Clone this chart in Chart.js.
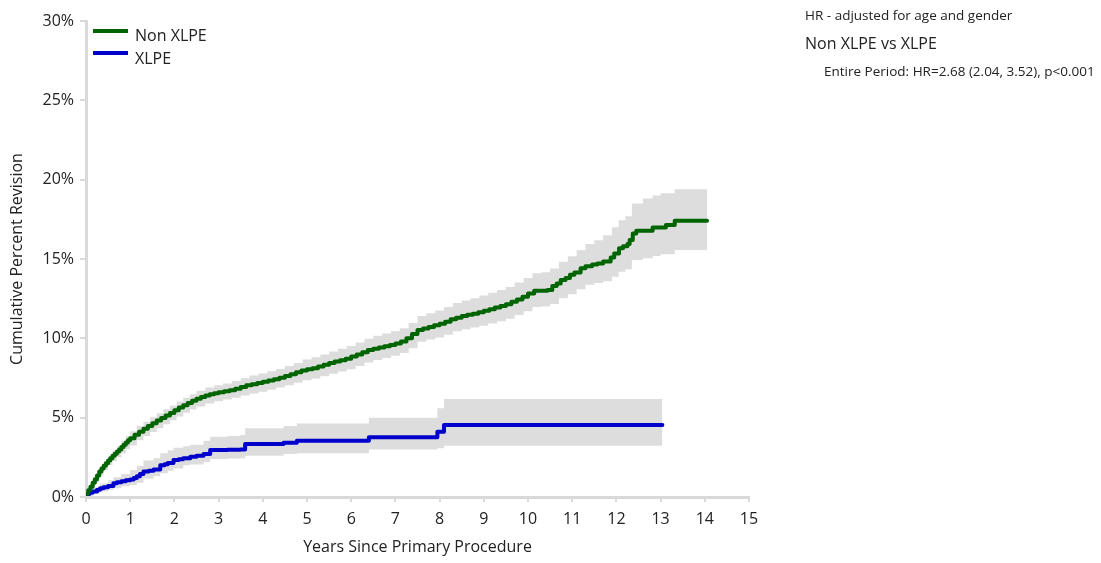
<!DOCTYPE html>
<html>
<head>
<meta charset="utf-8">
<script src="https://cdn.jsdelivr.net/npm/chart.js@4/dist/chart.umd.min.js"></script>
<style>
    body { margin: 0; background: #fff; font-family: "Open Sans", sans-serif; color: #222; }
    #wrap { position: relative; width: 1101px; height: 563px; }
    #grafico { position: absolute; left: 0; top: 0; }
    .txt { position: absolute; white-space: nowrap; }
    .leg-linha { position: absolute; width: 35px; height: 4px; }
</style>
</head>
<body>
<div id="wrap">
    <canvas id="grafico" width="1101" height="563"></canvas>

    <div class="leg-linha" style="left:93px; top:29px; background:#006400"></div>
    <div class="txt" style="left:135px; top:25px; font-size:16px; line-height:20px">Non XLPE</div>
    <div class="leg-linha" style="left:93px; top:51px; background:#0000cc"></div>
    <div class="txt" style="left:135px; top:48px; font-size:16px; line-height:20px">XLPE</div>

    <div class="txt" style="left:805px; top:5px; font-size:13.5px; line-height:20px">HR - adjusted for age and gender</div>
    <div class="txt" style="left:805px; top:33px; font-size:16px; line-height:20px">Non XLPE vs XLPE</div>
    <div class="txt" style="left:824px; top:61px; font-size:13.5px; line-height:20px">Entire Period: HR=2.68 (2.04, 3.52), p&lt;0.001</div>
</div>

<script>
// Non XLPE (verde) - curva
const anosNonXlpe = [0, 0.05, 0.1, 0.15, 0.2, 0.25, 0.3, 0.35, 0.4, 0.45, 0.5, 0.55, 0.6, 0.65, 0.7, 0.75, 0.8, 0.85, 0.9, 0.95, 1.0,
    1.1, 1.2, 1.3, 1.4, 1.5, 1.6, 1.7, 1.8, 1.9, 2.0, 2.1, 2.2, 2.3, 2.4, 2.5, 2.6, 2.7, 2.8, 2.9, 3.0,
    3.125, 3.25, 3.375, 3.5, 3.625, 3.75, 3.875, 4.0, 4.125, 4.25, 4.375, 4.5, 4.625, 4.75, 4.875, 5.0,
    5.125, 5.25, 5.375, 5.5, 5.625, 5.75, 5.875, 6.0, 6.125, 6.25, 6.375, 6.5, 6.625, 6.75, 6.875, 7.0,
    7.125, 7.25, 7.375, 7.5, 7.625, 7.75, 7.875, 8.0, 8.125, 8.25, 8.375, 8.5, 8.625, 8.75, 8.875, 9.0,
    9.125, 9.25, 9.375, 9.5, 9.625, 9.75, 9.875, 10.0,
    10.14, 10.44, 10.55, 10.65, 10.74, 10.85, 10.95, 11.05, 11.19, 11.3, 11.45, 11.57, 11.7, 11.87, 11.95,
    12.06, 12.15, 12.25, 12.3, 12.37, 12.45, 12.82, 13.12, 13.32, 14.05];
const revNonXlpe = [0.2, 0.42, 0.65, 0.9, 1.12, 1.36, 1.6, 1.8, 1.97, 2.13, 2.3, 2.45, 2.6, 2.73, 2.87, 3.0, 3.15, 3.3, 3.43, 3.57, 3.7,
    3.92, 4.12, 4.3, 4.48, 4.65, 4.82, 4.98, 5.14, 5.3, 5.47, 5.64, 5.78, 5.92, 6.06, 6.2, 6.3, 6.4, 6.48, 6.54, 6.6,
    6.66, 6.73, 6.82, 6.93, 7.04, 7.1, 7.18, 7.26, 7.34, 7.42, 7.52, 7.62, 7.74, 7.86, 7.97, 8.05,
    8.12, 8.22, 8.33, 8.44, 8.54, 8.62, 8.72, 8.85, 8.98, 9.12, 9.26, 9.34, 9.42, 9.5, 9.58, 9.68,
    9.8, 10.0, 10.28, 10.52, 10.62, 10.72, 10.82, 10.92, 11.05, 11.2, 11.3, 11.4, 11.48, 11.55, 11.65, 11.74,
    11.84, 11.94, 12.04, 12.15, 12.3, 12.45, 12.62, 12.82,
    13.0, 13.04, 13.3, 13.46, 13.67, 13.8, 14.0, 14.15, 14.41, 14.55, 14.65, 14.72, 14.85, 15.1, 15.35,
    15.67, 15.8, 15.94, 16.2, 16.6, 16.78, 16.99, 17.14, 17.41, 17.41];

// Non XLPE - intervalo de confiança
const anosFaixaNonXlpe = [0, 0.1, 0.2, 0.3, 0.4, 0.5, 0.6, 0.7, 0.8, 0.9, 1.0,
    1.15, 1.3, 1.45, 1.6, 1.75, 1.9, 2.05, 2.2, 2.35, 2.5,
    2.7, 2.9, 3.1, 3.3, 3.5, 3.7, 3.9, 4.1, 4.3, 4.5, 4.7, 4.9, 5.1, 5.3, 5.5, 5.7, 5.9, 6.1, 6.3, 6.5,
    6.7, 6.9, 7.1, 7.3, 7.5, 7.7, 7.9, 8.1, 8.3, 8.5, 8.7, 8.9, 9.1, 9.3, 9.5, 9.7, 9.9, 10.1, 10.3, 10.5,
    10.7, 10.9, 11.1, 11.3, 11.5, 11.7, 11.9,
    12.05, 12.2, 12.35, 12.6, 12.82, 13.0, 13.32, 14.05];
const supNonXlpe = [0.3, 0.8, 1.32, 1.85, 2.25, 2.6, 2.93, 3.23, 3.55, 3.85, 4.15,
    4.47, 4.75, 5.03, 5.28, 5.53, 5.77, 6.02, 6.26, 6.48, 6.69,
    6.9, 7.04, 7.16, 7.31, 7.48, 7.65, 7.78, 7.92, 8.07, 8.25, 8.45, 8.66, 8.81, 8.98, 9.17, 9.34, 9.51, 9.74, 9.98, 10.16,
    10.3, 10.44, 10.63, 10.96, 11.4, 11.58, 11.76, 11.98, 12.22, 12.39, 12.53, 12.7, 12.87, 13.05, 13.24, 13.52, 13.8, 14.1, 14.17, 14.4,
    14.83, 15.17, 15.55, 15.95, 16.18, 16.5, 17.0,
    17.45, 17.7, 18.5, 18.82, 19.0, 19.14, 19.4, 19.4];
const infNonXlpe = [0.1, 0.5, 0.92, 1.35, 1.7, 2.0, 2.27, 2.51, 2.75, 3.01, 3.25,
    3.57, 3.85, 4.1, 4.35, 4.59, 4.83, 5.08, 5.31, 5.52, 5.71,
    5.9, 6.04, 6.14, 6.26, 6.39, 6.52, 6.63, 6.76, 6.9, 7.04, 7.2, 7.36, 7.47, 7.61, 7.77, 7.91, 8.05, 8.25, 8.47, 8.63,
    8.76, 8.9, 9.08, 9.38, 9.78, 9.92, 10.06, 10.23, 10.44, 10.58, 10.68, 10.8, 10.93, 11.08, 11.24, 11.47, 11.7, 11.97, 12.0, 12.17,
    12.52, 12.78, 13.1, 13.38, 13.48, 13.6, 13.88,
    14.2, 14.35, 14.93, 15.05, 15.19, 15.3, 15.56, 15.56];

// XLPE (azul) - curva
const anosXlpe = [0, 0.08, 0.15, 0.25, 0.32, 0.4, 0.5, 0.62, 0.7, 0.8, 0.9, 1.0, 1.08, 1.15, 1.22, 1.3, 1.42, 1.53, 1.68, 1.78,
    1.85, 1.98, 2.1, 2.2, 2.36, 2.5, 2.66, 2.81, 3.2, 3.49, 3.6, 4.47, 4.77, 6.4, 7.95, 8.1, 13.04];
const revXlpe = [0.19, 0.27, 0.35, 0.45, 0.55, 0.62, 0.7, 0.86, 0.93, 1.0, 1.05, 1.1, 1.2, 1.3, 1.45, 1.6, 1.65, 1.74, 2.0, 2.07,
    2.15, 2.33, 2.38, 2.45, 2.54, 2.6, 2.71, 2.96, 2.98, 3.0, 3.34, 3.42, 3.55, 3.76, 4.11, 4.54, 4.54];

// XLPE - intervalo de confiança
const anosFaixaXlpe = [0, 0.15, 0.32, 0.5, 0.62, 0.8, 1.0, 1.15, 1.3, 1.53, 1.68, 1.85, 1.98, 2.2, 2.36, 2.66, 2.81, 3.2, 3.49, 3.6,
    4.47, 4.77, 6.4, 7.95, 8.1, 13.04];
const supXlpe = [0.3, 0.55, 0.85, 1.05, 1.25, 1.45, 1.7, 1.95, 2.3, 2.45, 2.75, 2.95, 3.1, 3.2, 3.3, 3.55, 3.8, 3.85, 3.9, 4.33,
    4.47, 4.64, 5.0, 5.59, 6.18, 6.18];
const infXlpe = [0.1, 0.2, 0.35, 0.45, 0.55, 0.68, 0.76, 0.9, 1.15, 1.3, 1.5, 1.65, 1.8, 2.0, 2.05, 2.2, 2.4, 2.43, 2.45, 2.6,
    2.71, 2.75, 3.0, 3.07, 3.23, 3.23];

const limitesX = [0, 15];
const limitesY = [0, 30];

const VERDE = '#006400';
const AZUL = '#0000cc';
const CINZA = '#dddddd';
const EIXO = '#d9d9d9';
const FONTE = { family: 'Open Sans', size: 16 };

function pontos(xs, ys) { return xs.map((x, i) => ({ x: x, y: ys[i] })); }

function linha(label, xs, ys, cor) {
    return { label: label, data: pontos(xs, ys), borderColor: cor, borderWidth: 4, pointRadius: 0,
             stepped: 'before', fill: false, borderJoinStyle: 'round', borderCapStyle: 'round' };
}
function faixa(xs, ys, preencher) {
    return { data: pontos(xs, ys), borderWidth: 0, borderColor: 'rgba(0,0,0,0)', pointRadius: 0,
             stepped: 'before', backgroundColor: CINZA, fill: preencher };
}

new Chart(document.getElementById('grafico'), {
    type: 'line',
    data: {
        datasets: [
            linha('Non XLPE', anosNonXlpe, revNonXlpe, VERDE),
            linha('XLPE', anosXlpe, revXlpe, AZUL),
            faixa(anosFaixaNonXlpe, supNonXlpe, '+1'),
            faixa(anosFaixaNonXlpe, infNonXlpe, false),
            faixa(anosFaixaXlpe, supXlpe, '+1'),
            faixa(anosFaixaXlpe, infXlpe, false)
        ]
    },
    options: {
        responsive: false,
        animation: false,
        layout: { padding: { left: 0, right: 352, top: 21, bottom: 0 } },
        plugins: { legend: { display: false }, tooltip: { enabled: false } },
        scales: {
            x: {
                type: 'linear', min: limitesX[0], max: limitesX[1],
                afterFit: s => { s.height = 66; },
                border: { display: true, color: EIXO, width: 3 },
                grid: { drawOnChartArea: false, drawTicks: true, tickLength: 5, color: EIXO, lineWidth: 2 },
                ticks: { stepSize: 1, padding: 8, color: '#222', font: FONTE },
                title: { display: true, text: 'Years Since Primary Procedure', color: '#222',
                         font: FONTE, padding: { top: 0, bottom: 6 } }
            },
            y: {
                min: limitesY[0], max: limitesY[1],
                afterFit: s => { s.width = 86; },
                border: { display: true, color: EIXO, width: 3 },
                grid: { drawOnChartArea: false, drawTicks: true, tickLength: 6, color: EIXO, lineWidth: 2 },
                ticks: { stepSize: 5, padding: 6, color: '#222', font: FONTE, callback: v => v + '%' },
                title: { display: true, text: 'Cumulative Percent Revision', color: '#222',
                         font: FONTE, padding: { top: 8, bottom: 0 } }
            }
        }
    }
});
</script>
</body>
</html>
